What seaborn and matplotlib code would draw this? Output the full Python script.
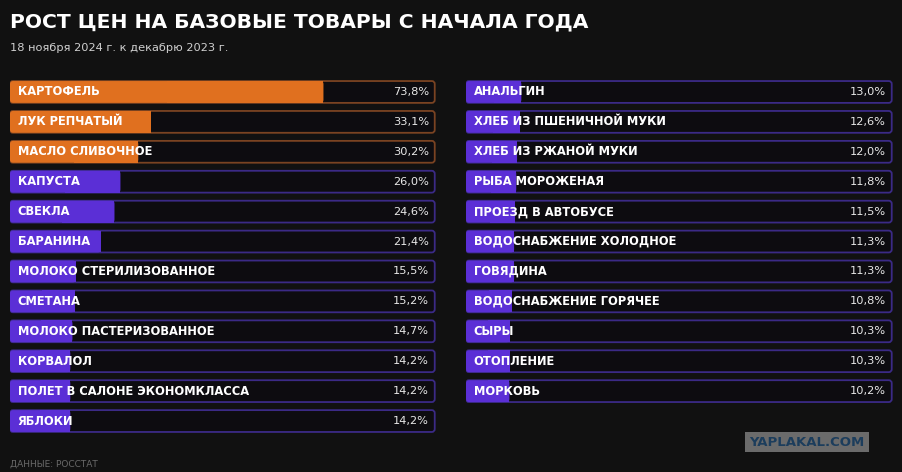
import matplotlib
matplotlib.use("Agg")
import matplotlib.pyplot as plt
from matplotlib.patches import FancyBboxPatch, Rectangle
import seaborn as sns
import pandas as pd

# данные: рост цен, %
left_items = ["КАРТОФЕЛЬ", "ЛУК РЕПЧАТЫЙ", "МАСЛО СЛИВОЧНОЕ", "КАПУСТА", "СВЕКЛА",
              "БАРАНИНА", "МОЛОКО СТЕРИЛИЗОВАННОЕ", "СМЕТАНА", "МОЛОКО ПАСТЕРИЗОВАННОЕ",
              "КОРВАЛОЛ", "ПОЛЕТ В САЛОНЕ ЭКОНОМКЛАССА", "ЯБЛОКИ"]
left_values = [73.8, 33.1, 30.2, 26.0, 24.6, 21.4, 15.5, 15.2, 14.7, 14.2, 14.2, 14.2]

right_items = ["АНАЛЬГИН", "ХЛЕБ ИЗ ПШЕНИЧНОЙ МУКИ", "ХЛЕБ ИЗ РЖАНОЙ МУКИ", "РЫБА МОРОЖЕНАЯ",
               "ПРОЕЗД В АВТОБУСЕ", "ВОДОСНАБЖЕНИЕ ХОЛОДНОЕ", "ГОВЯДИНА", "ВОДОСНАБЖЕНИЕ ГОРЯЧЕЕ",
               "СЫРЫ", "ОТОПЛЕНИЕ", "МОРКОВЬ"]
right_values = [13.0, 12.6, 12.0, 11.8, 11.5, 11.3, 11.3, 10.8, 10.3, 10.3, 10.2]

BG = "#111111"
TRACK = "#0d0c10"
ORANGE = "#e0701f"
ORANGE_EDGE = "#7a4322"
PURPLE = "#5b2fd6"
PURPLE_EDGE = "#3b2a86"

sns.set_theme(style="white")
plt.rcParams["font.family"] = ["DejaVu Sans"]

fig = plt.figure(figsize=(9.02, 4.72), dpi=100, facecolor=BG)


def round_patches(ax, patches, aspect, r=0.7, square_right=False):
    # заменяем прямоугольники seaborn на скругленные
    for p in patches:
        x, y, w, h = p.get_x(), p.get_y(), p.get_width(), p.get_height()
        if h < 0:
            y, h = y + h, -h
        fb = FancyBboxPatch((x, y), w, h,
                            boxstyle=f"round,pad=0,rounding_size={r}",
                            mutation_aspect=aspect,
                            facecolor=p.get_facecolor(), edgecolor=p.get_edgecolor(),
                            linewidth=p.get_linewidth(), zorder=p.get_zorder())
        ax.add_patch(fb)
        if square_right:
            # правый край заливки прямой
            ax.add_patch(Rectangle((x + w / 2, y), w / 2, h, facecolor=p.get_facecolor(),
                                   linewidth=0, zorder=p.get_zorder()))
        p.set_visible(False)


def draw_panel(ax, items, values, n_rows=12):
    df = pd.DataFrame({"item": items, "value": values, "full": [100] * len(items)})
    fills = [ORANGE if v > 30 else PURPLE for v in values]
    edges = [ORANGE_EDGE if v > 30 else PURPLE_EDGE for v in values]
    # дорожка
    sns.barplot(data=df, x="full", y="item", orient="h", ax=ax, width=0.73,
                color=TRACK, linewidth=1.3, edgecolor=PURPLE_EDGE)
    for p, ec in zip(ax.patches, edges):
        p.set_edgecolor(ec)
    n_track = len(ax.patches)
    sns.barplot(data=df, x="value", y="item", orient="h", ax=ax, width=0.73,
                color=PURPLE, linewidth=0)
    for p, fc in zip(ax.patches[n_track:], fills):
        p.set_facecolor(fc)
    ax.set_xlim(0, 100.3)
    ax.set_ylim(n_rows - 0.5, -0.5)
    bars = list(ax.patches)
    aspect = (12 / 359) / (100.3 / 426)
    round_patches(ax, bars[:n_track], aspect)
    round_patches(ax, bars[n_track:], aspect, square_right=True)
    for i, (name, v) in enumerate(zip(items, values)):
        ax.text(1.8, i, name, color="white", fontsize=8.3, fontweight="bold",
                va="center", ha="left", zorder=5)
        ax.text(98.6, i, f"{v:.1f}%".replace(".", ","), color="#e8e8e8",
                fontsize=8.2, va="center", ha="right", zorder=5)
    ax.set_facecolor(BG)
    ax.axis("off")


ax1 = fig.add_axes([10 / 902, 1 - 436 / 472, 426 / 902, 359 / 472])
ax2 = fig.add_axes([466 / 902, 1 - 436 / 472, 427 / 902, 359 / 472])
draw_panel(ax1, left_items, left_values)
draw_panel(ax2, right_items, right_values)

fig.text(10 / 902, 1 - 22 / 472, "РОСТ ЦЕН НА БАЗОВЫЕ ТОВАРЫ С НАЧАЛА ГОДА",
         color="white", fontsize=14.6, fontweight="bold", va="center", ha="left")
fig.text(10 / 902, 1 - 48 / 472, "18 ноября 2024 г. к декабрю 2023 г.",
         color="#d0d0d0", fontsize=8.2, va="center", ha="left")
fig.text(10 / 902, 1 - 464 / 472, "ДАННЫЕ: РОССТАТ",
         color="#6a6a6a", fontsize=6.5, va="center", ha="left")
fig.text(807 / 902, 1 - 442 / 472, "YAPLAKAL.COM", color="#1c3d5c",
         fontsize=9.5, fontweight="bold", va="center", ha="center",
         bbox=dict(boxstyle="square,pad=0.3", facecolor="#6b6b6b", edgecolor="none"))

fig.savefig("out.png", dpi=100, facecolor=BG)
